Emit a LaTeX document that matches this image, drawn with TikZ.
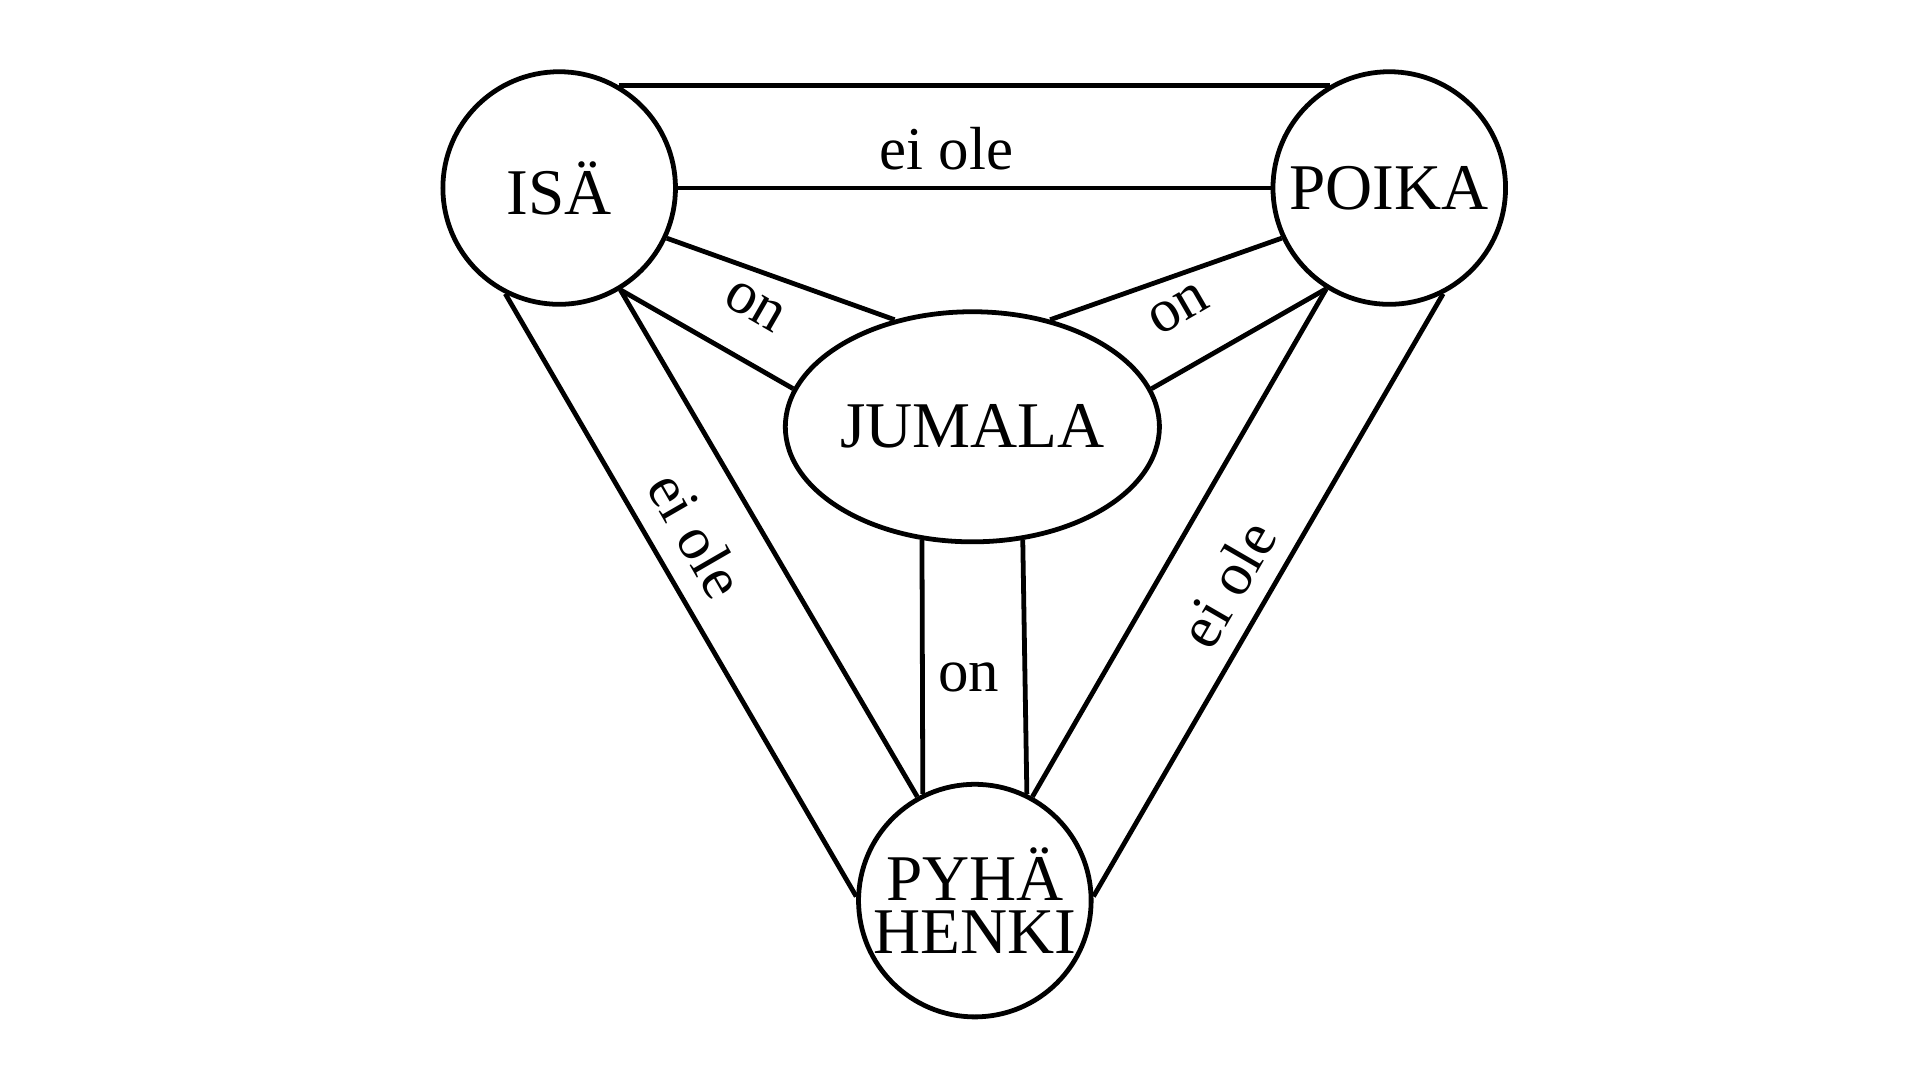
\documentclass[tikz,border=0pt]{standalone}
\usepackage{fontspec}
\setmainfont{Liberation Serif}
\usetikzlibrary{shapes.geometric}
\tikzset{
  person/.style={draw, circle, line width=1.1pt, minimum size=1.88cm, inner sep=0pt, font=\fontsize{15}{16}\selectfont, align=center},
  band/.style={line width=1.1pt},
  bandlabel/.style={font=\fontsize{14}{15}\selectfont, inner sep=0pt}
}
\begin{document}
\begin{tikzpicture}
    \useasboundingbox (0,0) rectangle (15.52,-8.73);

    \node[person] (isa) at (4.52,-1.52) {ISÄ};
    \node[person] (poika) at (11.23,-1.52) {POIKA};
    \node[person] (pyha) at (7.88,-7.28) {PYHÄ\\[-4pt]HENKI};
    \node[draw, ellipse, line width=1.1pt, minimum width=2.58cm, minimum height=1.86cm, inner sep=0pt,
          font=\fontsize{15}{16}\selectfont] (jumala) at (7.86,-3.45) {JUMALA};

    % isa -- poika
    \draw[band] (isa.60) -- (poika.120);
    \draw[band] (isa.0) -- (poika.180);
    \node[bandlabel] (l1) at (7.65,-1.2) {ei ole};

    % isa -- jumala
    \draw[band] (isa.-25) -- (jumala.126);
    \draw[band] (isa.-59) -- (jumala.168);
    \node[bandlabel, rotate=-30] (l2) at (6.10,-2.48) {on};

    % poika -- jumala
    \draw[band] (poika.205) -- (jumala.54);
    \draw[band] (poika.238) -- (jumala.12);
    \node[bandlabel, rotate=30] (l3) at (9.53,-2.50) {on};

    % isa -- pyha
    \draw[band] (isa.-117) -- (pyha.178);
    \draw[band] (isa.-59) -- (pyha.119);
    \node[bandlabel, rotate=-60] (l4) at (5.63,-4.32) {ei ole};

    % poika -- pyha
    \draw[band] (poika.-122) -- (pyha.61);
    \draw[band] (poika.-63) -- (pyha.2);
    \node[bandlabel, rotate=60] (l5) at (9.92,-4.72) {ei ole};

    % jumala -- pyha
    \draw[band] (jumala.-114) -- (pyha.116);
    \draw[band] (jumala.-66) -- (pyha.64);
    \node[bandlabel] (l6) at (7.83,-5.48) {on};

\end{tikzpicture}
\end{document}
